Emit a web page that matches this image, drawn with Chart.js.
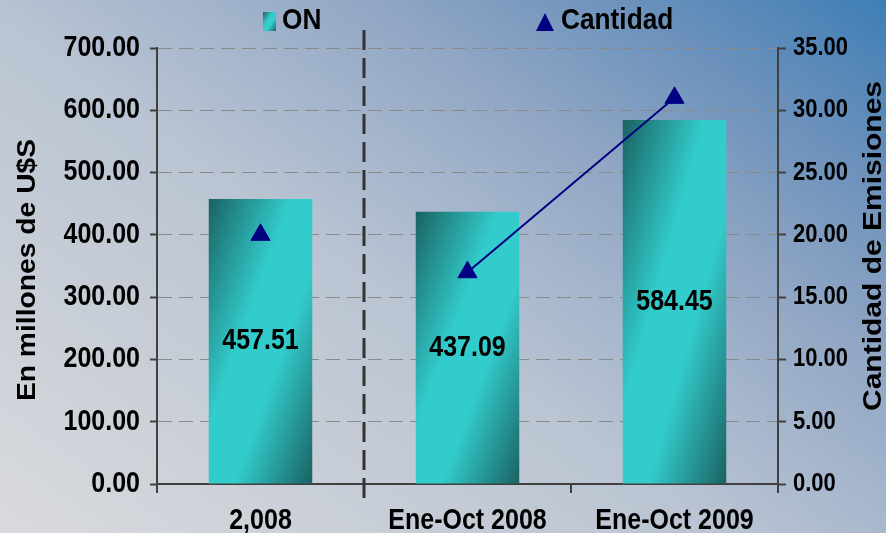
<!DOCTYPE html>
<html>
<head>
<meta charset="utf-8">
<script src="https://cdn.jsdelivr.net/npm/chart.js@4.4.1/dist/chart.umd.min.js"></script>
<style>
  html, body { margin: 0; padding: 0; }
  #wrap { width: 886px; height: 533px; }
</style>
</head>
<body>
<div id="wrap"><canvas id="chart"></canvas></div>
<script>
// datos del grafico
const categorias = ['2,008', 'Ene-Oct 2008', 'Ene-Oct 2009'];
const montoON = [457.51, 437.09, 584.45];      // en millones de U$S
const cantidadEmisiones = [20, 17, 31];
const leyendaON = 'ON';
const leyendaCantidad = 'Cantidad';
const tituloIzq = 'En millones de U$S';
const tituloDer = 'Cantidad de Emisiones';

const FONT = '"Liberation Sans", Arial, sans-serif';
const OSCURO = '#1a6262';
const CLARO = '#33cccc';
const AZUL = '#000080';
const EJE = '#404040';
const ALTO = 1.15;   // el texto del original se ve estirado en vertical

// gradiente diagonal de cada barra (como en Excel)
function gradBarra(ctx, l, t, r, b) {
    const w = r - l, h = b - t;
    const k = 2 * w * h / (h * h + w * w);
    const g = ctx.createLinearGradient(l, t, l + h * k, t + w * k);
    g.addColorStop(0, OSCURO);
    g.addColorStop(0.4, CLARO);
    g.addColorStop(0.62, CLARO);
    g.addColorStop(1, OSCURO);
    return g;
}

// texto con escala (sx a lo largo, sy a lo alto) y rotacion opcional
function texto(c, str, x, y, align, size, sx, sy, rot) {
    c.save();
    c.translate(x, y);
    if (rot) c.rotate(rot);
    c.scale(sx, sy);
    c.font = 'bold ' + size + 'px ' + FONT;
    c.textAlign = align;
    c.textBaseline = 'middle';
    c.fillText(str, 0, 0);
    c.restore();
}

const fondo = {
    id: 'fondo',
    beforeDraw(chart) {
        const c = chart.ctx;
        const g = c.createLinearGradient(0, 533, 547, -240);
        g.addColorStop(0, '#d9dadd');
        g.addColorStop(0.44, '#bac4d2');
        g.addColorStop(0.56, '#a6b6cd');
        g.addColorStop(0.68, '#92a7c4');
        g.addColorStop(0.85, '#6990bb');
        g.addColorStop(1, '#3e7eb5');
        c.save();
        c.fillStyle = g;
        c.fillRect(0, 0, chart.width, chart.height);
        c.restore();
    }
};

const extras = {
    id: 'extras',
    afterDatasetsDraw(chart) {
        const c = chart.ctx;
        const x = chart.scales.x;
        const area = chart.chartArea;
        // linea vertical punteada entre 2008 y Ene-Oct 2008
        const xs = (x.getPixelForValue(0) + x.getPixelForValue(1)) / 2;
        c.save();
        c.strokeStyle = '#333333';
        c.lineWidth = 3;
        c.setLineDash([20, 8]);
        c.beginPath();
        c.moveTo(xs, 30);
        c.lineTo(xs, area.bottom + 18);
        c.stroke();
        c.restore();

        // etiquetas de valor dentro de las barras
        const meta = chart.getDatasetMeta(1);
        c.save();
        c.fillStyle = '#000';
        meta.data.forEach((bar, i) => {
            texto(c, montoON[i].toFixed(2), bar.x, (bar.y + bar.base) / 2, 'center', 25, 1, ALTO);
        });
        c.restore();
    },
    afterDraw(chart) {
        const c = chart.ctx;
        const area = chart.chartArea;
        const mid = (area.top + area.bottom) / 2;
        const {x, y, y2} = chart.scales;
        c.save();
        c.fillStyle = '#000';

        // etiquetas de los ejes (posiciones desde las escalas)
        y.ticks.forEach((t, i) => {
            texto(c, t.label, area.left - 17, y.getPixelForTick(i), 'right', 25, 1, ALTO);
        });
        y2.ticks.forEach((t, i) => {
            texto(c, t.label, area.right + 15, y2.getPixelForTick(i), 'left', 22, 1, ALTO);
        });
        x.ticks.forEach((t, i) => {
            texto(c, t.label, x.getPixelForTick(i), area.bottom + 37, 'center', 25, 1, ALTO);
        });

        // titulos de ejes
        texto(c, tituloIzq, 28, mid + 4, 'center', 25, 1.13, 1, -Math.PI / 2);
        texto(c, tituloDer, 874, mid - 20, 'center', 25, 1.2, 1, -Math.PI / 2);

        // leyenda
        c.fillStyle = gradBarra(c, 263, 12, 276, 31);
        c.fillRect(263, 12, 13, 19);
        c.fillStyle = '#000';
        texto(c, leyendaON, 282, 21, 'left', 25, 1.05, ALTO);
        c.fillStyle = AZUL;
        c.beginPath();
        c.moveTo(545, 13);
        c.lineTo(554, 31);
        c.lineTo(536, 31);
        c.closePath();
        c.fill();
        c.fillStyle = '#000';
        texto(c, leyendaCantidad, 561, 21, 'left', 25, 1.05, ALTO);
        c.restore();
    }
};

const ctx = document.getElementById('chart').getContext('2d');
const chart = new Chart(ctx, {
    type: 'bar',
    data: {
        labels: categorias,
        datasets: [
            {
                type: 'line',
                label: leyendaCantidad,
                data: cantidadEmisiones,
                yAxisID: 'y2',
                order: 0,
                borderColor: AZUL,
                borderWidth: 2,
                backgroundColor: AZUL,
                pointStyle: 'triangle',
                pointRadius: 11,
                pointHoverRadius: 11,
                pointBorderWidth: 1,
                fill: false,
                tension: 0,
                segment: {
                    borderColor: s => s.p0DataIndex === 0 ? 'rgba(0,0,0,0)' : AZUL
                }
            },
            {
                type: 'bar',
                label: leyendaON,
                data: montoON,
                yAxisID: 'y',
                order: 1,
                barPercentage: 0.5,
                categoryPercentage: 1,
                borderWidth: 0,
                backgroundColor: function (context) {
                    const chart = context.chart;
                    if (!chart.chartArea) return CLARO;
                    const i = context.dataIndex;
                    const xs = chart.scales.x, ys = chart.scales.y;
                    const cx = xs.getPixelForValue(i);
                    const half = xs.width / categorias.length * 0.25;
                    return gradBarra(chart.ctx, cx - half, ys.getPixelForValue(montoON[i]), cx + half, ys.getPixelForValue(0));
                }
            }
        ]
    },
    options: {
        responsive: true,
        maintainAspectRatio: false,
        animation: false,
        layout: { padding: { top: 48, left: 0, right: 0, bottom: 0 } },
        plugins: {
            legend: { display: false },
            tooltip: { enabled: false }
        },
        scales: {
            x: {
                grid: { drawOnChartArea: false, color: EJE, lineWidth: 2, tickLength: 9 },
                border: { color: EJE, width: 2 },
                ticks: { color: 'rgba(0,0,0,0)', padding: 12, font: { family: FONT, size: 25, weight: 'bold' } },
                afterFit: s => { s.height = 49; }
            },
            y: {
                position: 'left',
                min: 0,
                max: 700,
                ticks: {
                    stepSize: 100,
                    color: 'rgba(0,0,0,0)',
                    padding: 10,
                    font: { family: FONT, size: 25, weight: 'bold' },
                    callback: v => v.toFixed(2)
                },
                grid: { color: '#8a8a8a', lineWidth: 1, tickColor: EJE, tickWidth: 2, tickLength: 7 },
                border: { color: EJE, width: 2, dash: [14, 7] },
                afterFit: s => { s.width = 157; }
            },
            y2: {
                position: 'right',
                min: 0,
                max: 35,
                ticks: {
                    stepSize: 5,
                    color: 'rgba(0,0,0,0)',
                    padding: 7,
                    font: { family: FONT, size: 22, weight: 'bold' },
                    callback: v => v.toFixed(2)
                },
                grid: { drawOnChartArea: false, tickColor: EJE, tickWidth: 2, tickLength: 8 },
                border: { color: EJE, width: 2 },
                afterFit: s => { s.width = 108; }
            }
        }
    },
    plugins: [fondo, extras]
});
</script>
</body>
</html>
